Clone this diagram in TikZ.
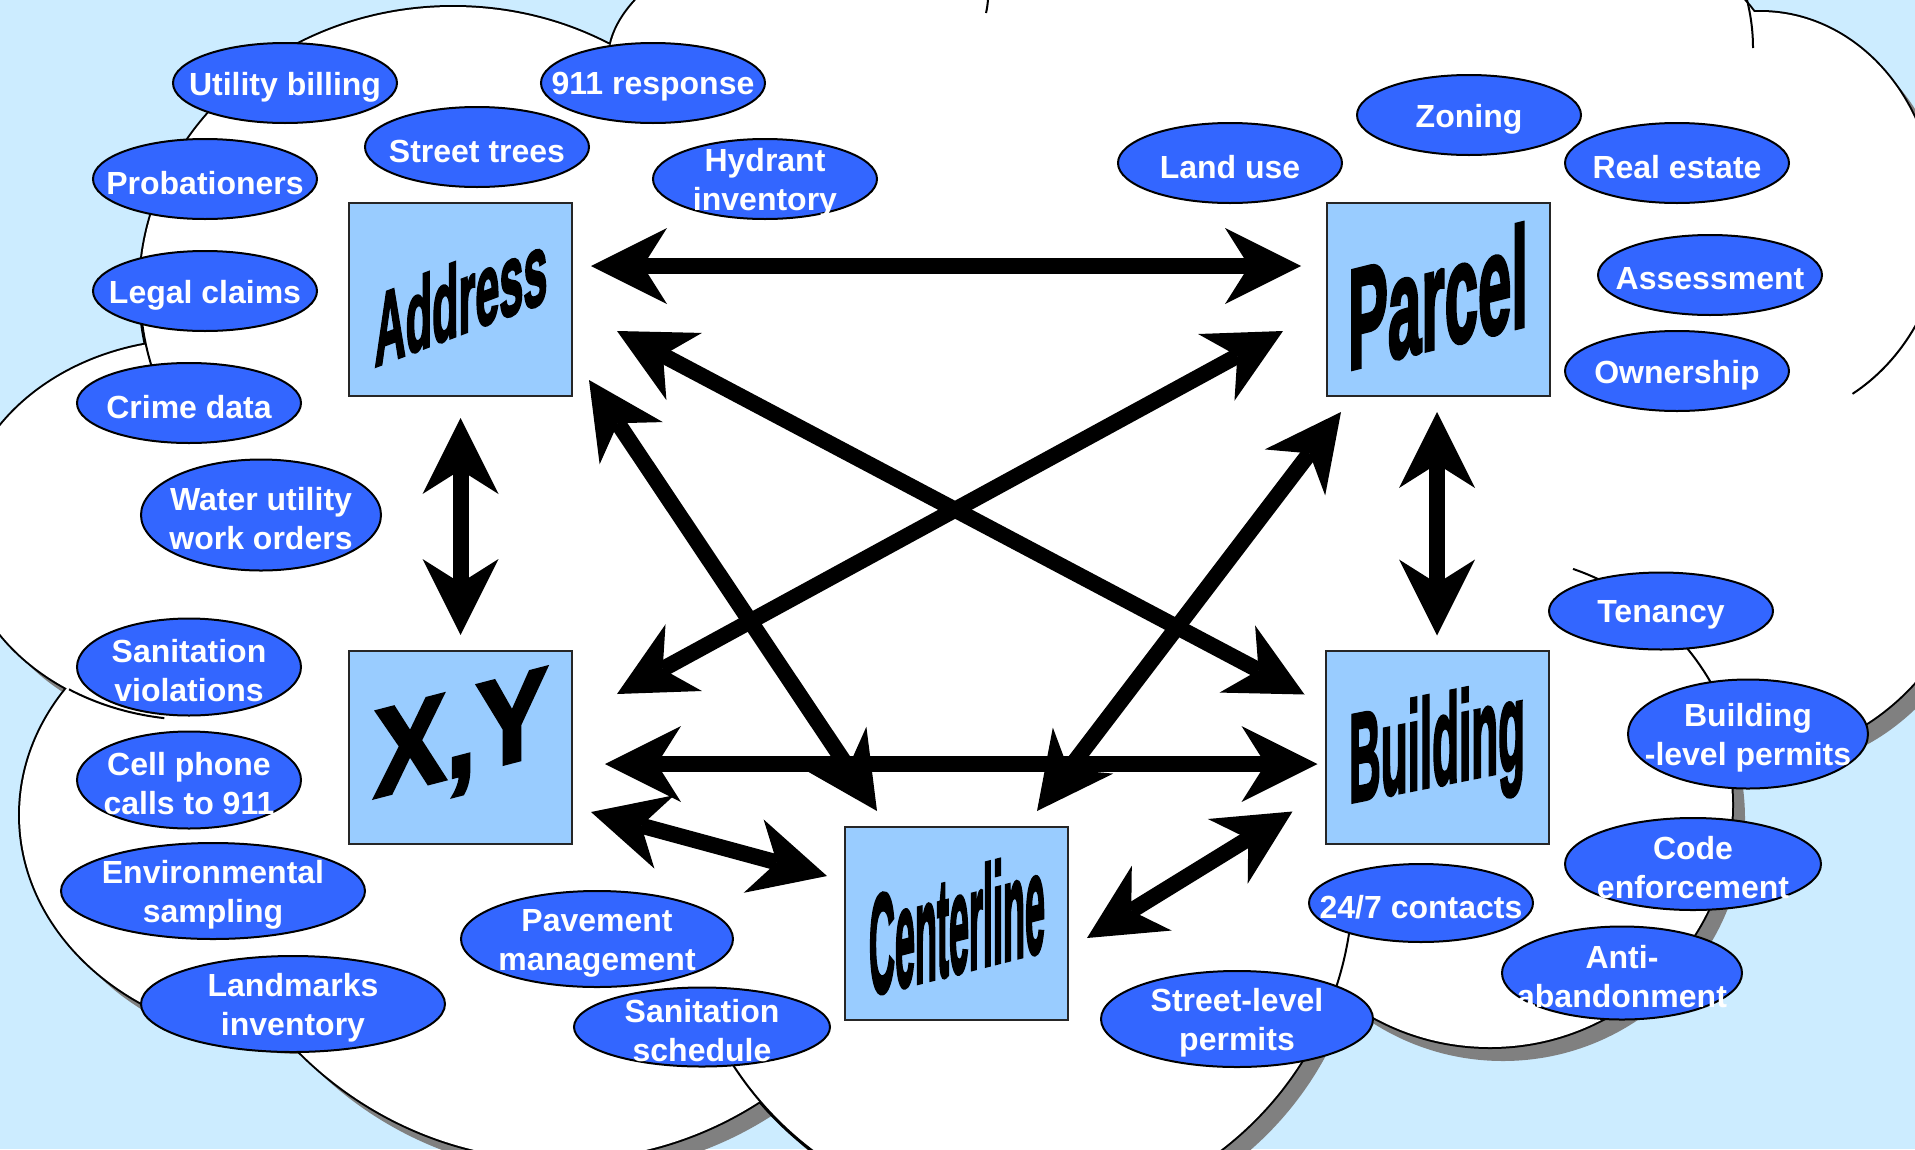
\documentclass[tikz,border=0pt]{standalone}
\usepackage{fontspec}
\setmainfont{Liberation Sans}
\newfontfamily\wafont[FakeBold=3]{Liberation Sans Bold}
\usetikzlibrary{arrows.meta,shapes.geometric}
\definecolor{bgblue}{HTML}{CCECFF}
\definecolor{ellblue}{HTML}{3366FF}
\definecolor{boxblue}{HTML}{99CCFF}
\definecolor{shadowgrey}{HTML}{808080}

\newcommand\cloudlobes[1]{%
  \path[#1] (453,290) ellipse [x radius=313pt, y radius=283pt];
  \path[#1] (1190,60) ellipse [x radius=581pt, y radius=198pt];
  \path[#1] (1760,212) ellipse [x radius=175pt, y radius=200pt];
  \path[#1] (1760,475) ellipse [x radius=230pt, y radius=280pt];
  \path[#1] (1490,805) ellipse [x radius=242pt, y radius=242pt];
  \path[#1] (1016,882) ellipse [x radius=337pt, y radius=337pt];
  \path[#1] (560,792) ellipse [x radius=368pt, y radius=368pt];
  \path[#1] (290,815) ellipse [x radius=270pt, y radius=225pt];
  \path[#1] (197,530) ellipse [x radius=235pt, y radius=190pt];
}
\newcommand\cloudfillers[1]{%
  \path[#1] (960,560) ellipse [x radius=700pt, y radius=420pt];
  \path[#1] (1450,420) ellipse [x radius=270pt, y radius=270pt];
}
\newcommand\bubble[5]{%
  \node[lbl, minimum width=#3pt, minimum height=#4pt] (#1) at (#2) {};
  \node[lbltext] (#1t) at (#1.center) {#5};
}

\begin{document}
\begin{tikzpicture}[x=1pt,y=-1pt,
  lbl/.style={ellipse, draw=black, line width=2pt, fill=ellblue, inner sep=0pt, outer sep=0pt},
  lbltext/.style={text=white, font=\bfseries\fontsize{32}{39}\selectfont, align=center, inner sep=0pt, yshift=-4pt},
  box/.style={rectangle, draw=black!85, line width=2pt, fill=boxblue, minimum width=223pt, minimum height=193pt, inner sep=0pt, outer sep=0pt},
  wordart/.style={font=\wafont\fontsize{40}{40}\selectfont, inner sep=0pt, anchor=base},
  dbl/.style={line width=16pt, <->, >={Stealth[length=76pt,width=76pt,inset=24pt,line width=0pt]}},
  innerarc/.style={line width=2pt, black}
]
\useasboundingbox (0,0) rectangle (1915,1149);
\clip (0,0) rectangle (1915,1149);
\fill[bgblue] (0,0) rectangle (1915,1149);

% cloud: shadow, outline, white body
\begin{scope}[shift={(13,14)}]
  \cloudlobes{fill=shadowgrey}
  \cloudfillers{fill=shadowgrey}
\end{scope}
\cloudlobes{draw=black, line width=4pt}
\cloudlobes{fill=white}
\cloudfillers{fill=white}

% inner arcs of the cloud
\draw[innerarc] plot[domain=160:178, samples=20] ({453+313*cos(\x)},{290+283*sin(\x)});
\draw[innerarc] plot[domain=98:123, samples=20] ({197+235*cos(\x)},{530+190*sin(\x)});
\draw[innerarc] plot[domain=125:150, samples=20] ({1016+337*cos(\x)},{882+337*sin(\x)});
\draw[innerarc] plot[domain=5:20, samples=20] ({1016+337*cos(\x)},{882+337*sin(\x)});
\draw[innerarc] plot[domain=-71:-27, samples=30] ({1490+255*cos(\x)},{810+255*sin(\x)});
\draw[innerarc] plot[domain=28:60, samples=20] ({1760+185*cos(\x)},{212+210*sin(\x)});
\draw[innerarc] (1747,0) .. controls (1751,16) and (1753,32) .. (1753,48);
\draw[innerarc] (988,0) .. controls (987.5,5) and (987,9) .. (986,13);

% boxes
\node[box] (addr) at (460.5,299.5) {};
\node[box] (parcel) at (1438.5,299.5) {};
\node[box] (xy) at (460.5,747.5) {};
\node[box] (bldg) at (1437,747) {};
\node[box] (cl) at (956.5,923.5) {};

\node[wordart, yslant=0.38, xscale=1.08, yscale=2.55] (addrt) at (461,334) {Address};
\node[wordart, yslant=0.25, xscale=1.5, yscale=3.56] (parcelt) at (1438,347.5) {Parcel};
\node[wordart, yslant=0.26, xscale=2.7, yscale=3.1] (xyt) at (461,775) {X,Y};
\node[wordart, yslant=0.2, xscale=1.1, yscale=3.14] (bldgt) at (1437,785) {Building};
\node[wordart, yslant=0.255, xscale=0.9, yscale=3.53] (clt) at (957,973) {Centerline};

% arrows
\draw[dbl] ([shift={(19,-33.5)}]addr.east) -- ([shift={(-26,-33.5)}]parcel.west);
\draw[dbl] ([shift={(45,31.5)}]addr.east) -- ([shift={(-21,44)}]bldg.north west);
\draw[dbl] ([shift={(17,-16)}]addr.south east) -- ([shift={(32,-16)}]cl.north west);
\draw[dbl] ([shift={(45,43)}]xy.north east) -- ([shift={(-44,31.5)}]parcel.west);
\draw[dbl] ([shift={(-31,-16)}]cl.north east) -- ([shift={(14,16)}]parcel.south west);
\draw[dbl] ([shift={(33,16.5)}]xy.east) -- ([shift={(-8,17)}]bldg.west);
\draw[dbl] ([shift={(19,-32)}]xy.south east) -- ([shift={(-18,-47.5)}]cl.west);
\draw[dbl] ([shift={(19,14.5)}]cl.east) -- ([shift={(-33,-32)}]bldg.south west);
\draw[dbl] ([shift={(0,22)}]addr.south) -- ([shift={(0,-16)}]xy.north);
\draw[dbl] ([shift={(-1.5,16)}]parcel.south) -- ([shift={(0,-15)}]bldg.north);

% label bubbles
\bubble{b1}{285,83}{224}{80}{Utility billing}
\bubble{b2}{653,83}{224}{80}{911 response}
\bubble{b3}{477,147}{224}{80}{Street trees}
\bubble{b4}{205,179}{224}{80}{Probationers}
\bubble{b5}{765,179}{224}{80}{Hydrant\\inventory}
\bubble{b6}{205,291}{224}{80}{Legal claims}
\bubble{b7}{189,403}{224}{80}{Crime data}
\bubble{b8}{261,515}{240}{111}{Water utility\\work orders}
\bubble{b9}{1469,115}{224}{80}{Zoning}
\bubble{b10}{1230,163}{224}{80}{Land use}
\bubble{b11}{1677,163}{224}{80}{Real estate}
\bubble{b12}{1710,275}{224}{80}{Assessment}
\bubble{b13}{1677,371}{224}{80}{Ownership}
\bubble{b14}{189,667}{224}{97}{Sanitation\\violations}
\bubble{b15}{189,780}{224}{97}{Cell phone\\calls to 911}
\bubble{b16}{213,891}{304}{96}{Environmental\\sampling}
\bubble{b17}{293,1004}{304}{96}{Landmarks\\inventory}
\bubble{b18}{597,939}{272}{96}{Pavement\\management}
\bubble{b19}{702,1027}{256}{79}{Sanitation\\schedule}
\bubble{b20}{1661,611}{224}{77}{Tenancy}
\bubble{b21}{1748,734}{240}{109}{Building\\-level permits}
\bubble{b22}{1693,864}{256}{92}{Code\\enforcement}
\bubble{b23}{1421,903}{224}{78}{24/7 contacts}
\bubble{b24}{1622,973}{240}{93}{Anti-\\abandonment}
\bubble{b25}{1237,1019}{272}{96}{Street-level\\permits}
\end{tikzpicture}
\end{document}
